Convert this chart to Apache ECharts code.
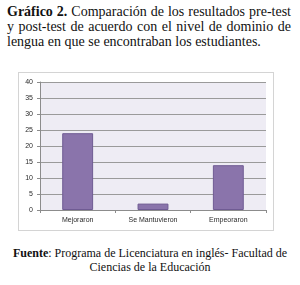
<!DOCTYPE html>
<html>
<head>
<meta charset="utf-8">
<script src="https://cdn.jsdelivr.net/npm/echarts@6/dist/echarts.min.js"></script>
<style>
  body { margin: 0; background: #fff; width: 300px; height: 285px; position: relative; overflow: hidden; }
  .titulo {
    position: absolute; left: 7px; top: 4px; width: 284px;
    font-family: 'Liberation Serif', 'Times New Roman', Times, serif; font-size: 14px; line-height: 15px;
    text-align: justify; color: #111;
  }
  .marco {
    position: absolute; left: 18px; top: 72px; width: 256px; height: 159px;
    border: 1px solid #d4d4d4; box-sizing: border-box;
  }
  #grafico { width: 100%; height: 100%; }
  .fuente {
    position: absolute; left: 0; top: 246px; width: 300px;
    font-family: 'Liberation Serif', 'Times New Roman', Times, serif; font-size: 12px; line-height: 14px;
    text-align: center; color: #111;
  }
</style>
</head>
<body>
<div class="titulo"><b>Gráfico 2.</b> Comparación de los resultados pre-test y post-test de acuerdo con el nivel de dominio de lengua en que se encontraban los estudiantes.</div>
<div class="marco"><div id="grafico"></div></div>
<div class="fuente"><b>Fuente</b>: Programa de Licenciatura en inglés- Facultad de<br>Ciencias de la Educación</div>
<script>
// datos del gráfico
var categorias = ['Mejoraron', 'Se Mantuvieron', 'Empeoraron'];
var valores = [24, 2, 14];
var ticksY = [0, 5, 10, 15, 20, 25, 30, 35, 40];

var chart = echarts.init(document.getElementById('grafico'));
var option = {
  animation: false,
  grid: {
    left: 21, right: 7, top: 9, bottom: 20,
    show: true, backgroundColor: '#eeecf4', borderWidth: 0
  },
  xAxis: {
    type: 'category',
    data: categorias,
    axisLine: { lineStyle: { color: '#8c8c8c' } },
    axisTick: { show: true, length: 3, lineStyle: { color: '#8c8c8c' } },
    axisLabel: { color: '#2a2a2a', fontSize: 7, fontFamily: 'Liberation Sans', margin: 7 }
  },
  yAxis: {
    type: 'value',
    min: ticksY[0], max: ticksY[ticksY.length - 1], interval: 5,
    axisLine: { show: true, lineStyle: { color: '#8c8c8c' } },
    axisTick: { show: true, length: 3, lineStyle: { color: '#8c8c8c' } },
    axisLabel: { color: '#2a2a2a', fontSize: 7, fontFamily: 'Liberation Sans', margin: 7 },
    splitLine: { lineStyle: { color: '#9a9a9a', width: 1 } }
  },
  series: [{
    type: 'bar',
    data: valores,
    barWidth: '41%',
    itemStyle: { color: '#8a74ab', borderColor: '#6f5b93', borderWidth: 1 }
  }]
};
chart.setOption(option);
</script>
</body>
</html>
